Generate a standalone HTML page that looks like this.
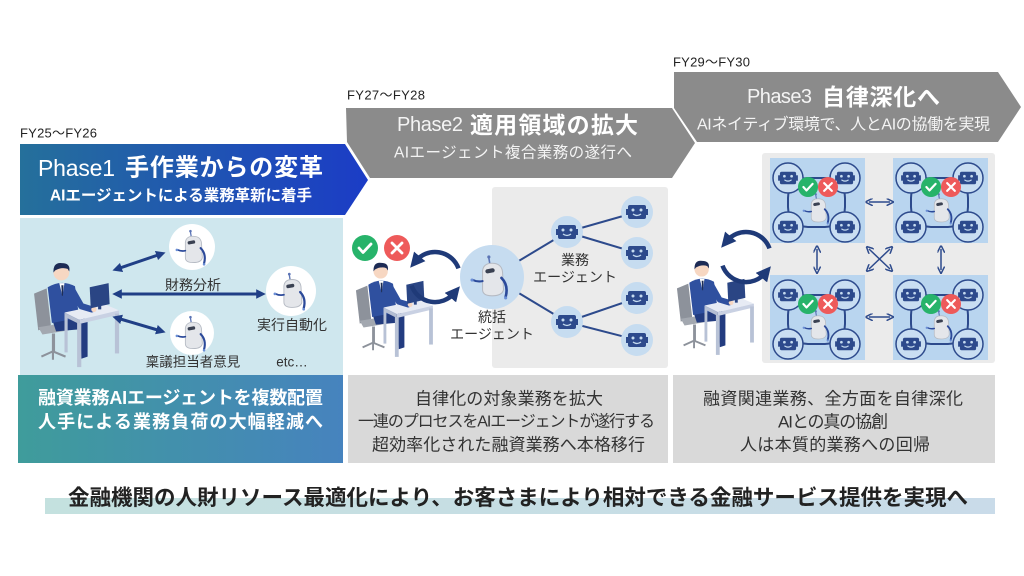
<!DOCTYPE html>
<html><head><meta charset="utf-8">
<style>
html,body{margin:0;padding:0;background:#fff;width:1024px;height:576px;overflow:hidden}
svg{display:block}
text{font-family:"Liberation Sans","Noto Sans CJK JP",sans-serif}
</style></head>
<body>
<svg width="1024" height="576" viewBox="0 0 1024 576" xmlns="http://www.w3.org/2000/svg">
<defs>
  <linearGradient id="g1" x1="0" y1="0" x2="1" y2="0">
    <stop offset="0" stop-color="#25709b"/><stop offset="1" stop-color="#1b3cc6"/>
  </linearGradient>
  <linearGradient id="g2" x1="0" y1="0" x2="1" y2="0">
    <stop offset="0" stop-color="#3f9c9b"/><stop offset="1" stop-color="#4683be"/>
  </linearGradient>
  <linearGradient id="g3" x1="0" y1="0" x2="1" y2="0">
    <stop offset="0" stop-color="#c4e1df"/><stop offset="1" stop-color="#c9dbe9"/>
  </linearGradient>
  <marker id="a" viewBox="0 0 10 10" refX="5" refY="5" markerWidth="3.2" markerHeight="3.2" orient="auto-start-reverse"><path d="M0,0 L10,5 L0,10 z" fill="#203f86"/></marker>
  <marker id="c" viewBox="0 0 10 10" refX="4" refY="5" markerWidth="3.3" markerHeight="3.3" orient="auto"><path d="M0,0 L10,5 L0,10 z" fill="#1f3a78"/></marker>
  <marker id="s" viewBox="0 0 10 10" refX="5" refY="5" markerWidth="5" markerHeight="5" orient="auto-start-reverse"><path d="M0,0 L10,5 L0,10" fill="none" stroke="#2d4a8c" stroke-width="2"/></marker>

  <g id="ps">
    <polygon points="1,32 13,27 17,62 5,67" fill="#8d929b"/>
    <polygon points="5,64 30,60 34,67 9,71" fill="#a3a8b0"/>
    <rect x="18" y="70" width="3" height="18" fill="#8d929b"/>
    <path d="M8,92 L19,87 L31,92 M19,87 L19,95" stroke="#8d929b" stroke-width="2" fill="none"/>
    <path d="M18,56 L44,52 L52,58 L52,92 L46,94 L45,66 L22,68 Z" fill="#233c80"/>
    <path d="M14,26 Q27,18 40,25 L44,55 L18,60 Z" fill="#2f509f"/>
    <polygon points="25,22 30,22 28,34" fill="#fff"/>
    <polygon points="27,24 29,24 28.5,34 27.5,34" fill="#1e2d55"/>
    <circle cx="27" cy="12" r="7.5" fill="#f7d7c2"/>
    <path d="M19.5,12 Q19,2 27.5,3 Q36,3 34.5,11 L33,8.5 Q27,6.5 21,10 Z" fill="#1d2b55"/>
    <polygon points="30,50 68,42 82,48 44,57" fill="#e7ebf4"/>
    <polygon points="44,57 82,48 82,52 44,61" fill="#c9d1e3"/>
    <polygon points="30,50 44,57 44,61 30,54" fill="#b4bed3"/>
    <rect x="42" y="60" width="4" height="42" fill="#b8c2d6"/>
    <rect x="78" y="51" width="4" height="38" fill="#b8c2d6"/>
    <rect x="30" y="53" width="3" height="35" fill="#b8c2d6"/>
    <path d="M37,28 L46,44 L56,47" stroke="#2f509f" stroke-width="6" fill="none" stroke-linecap="round" stroke-linejoin="round"/>
    <circle cx="58" cy="47" r="2.5" fill="#f7d7c2"/>
    <polygon points="54,26 72,22 73,42 55,46" fill="#2a4584"/>
    <rect x="62" y="42" width="3" height="5" fill="#2a4584"/>
  </g>

  <g id="rb">
    <path d="M-2,-14 L-3,-20" stroke="#5b74b5" stroke-width="1.5"/>
    <circle cx="-3" cy="-21" r="1.5" fill="#5b74b5"/>
    <path d="M-9,-8 Q-8,-15 0,-15 Q9,-15 10,-7 L11,10 Q10,16 0,16 Q-9,16 -9,10 Z" fill="#e4e6ea" stroke="#b5bac3" stroke-width="1"/>
    <rect x="-5" y="-10" width="9" height="4" rx="2" fill="#3a4152" transform="rotate(-10)"/>
    <path d="M-9,2 Q-14,3 -18,1" stroke="#2c4a9a" stroke-width="2" fill="none" stroke-linecap="round"/>
    <path d="M9,-1 Q16,6 13,17" stroke="#2c4a9a" stroke-width="2.5" fill="none" stroke-linecap="round"/>
    <circle cx="-19" cy="1" r="1.5" fill="#6b8fd6"/>
    <circle cx="13" cy="18" r="1.5" fill="#6b8fd6"/>
  </g>

  <g id="face">
    <rect x="-9" y="-7" width="18" height="14" rx="2" fill="#2d4a8c"/>
    <rect x="-11" y="-3" width="2.5" height="6" fill="#2d4a8c"/>
    <rect x="8.5" y="-3" width="2.5" height="6" fill="#2d4a8c"/>
    <circle cx="-4" cy="-2" r="1.5" fill="#c6dcf0"/>
    <circle cx="4" cy="-2" r="1.5" fill="#c6dcf0"/>
    <path d="M-4,2 Q0,5 4,2" stroke="#c6dcf0" stroke-width="1.3" fill="none"/>
  </g>

  <g id="ok"><circle r="13" fill="#27b36a"/><path d="M-6,0 L-2,4.5 L6,-4" stroke="#fff" stroke-width="2.8" fill="none" stroke-linecap="round" stroke-linejoin="round"/></g>
  <g id="ng"><circle r="13" fill="#ee5a5a"/><path d="M-5,-5 L5,5 M5,-5 L-5,5" stroke="#fff" stroke-width="2.8" stroke-linecap="round"/></g>

  <g id="node3">
    <circle r="15" fill="#c9def2" stroke="#2d4a8c" stroke-width="1.5"/>
    <use href="#face" transform="scale(0.9)"/>
  </g>

  <g id="cell">
    <rect width="95" height="85" fill="#b9d5ef"/>
    <rect x="18" y="20" width="57" height="49" rx="20" fill="none" stroke="#2d4a8c" stroke-width="2"/>
    <use href="#node3" x="18" y="20"/>
    <use href="#node3" x="75" y="20"/>
    <use href="#node3" x="18" y="69"/>
    <use href="#node3" x="75" y="69"/>
    <g transform="translate(48,52) scale(0.75)"><use href="#rb"/></g>
    <g transform="translate(38,29) scale(0.77)"><use href="#ok"/></g>
    <g transform="translate(58,29) scale(0.77)"><use href="#ng"/></g>
  </g>
</defs>

<!-- FY labels -->
<text x="20" y="133" font-size="13" fill="#222" dominant-baseline="central" textLength="77">FY25〜FY26</text>
<text x="347" y="95" font-size="13" fill="#222" dominant-baseline="central" textLength="78">FY27〜FY28</text>
<text x="673" y="62" font-size="13" fill="#222" dominant-baseline="central" textLength="77">FY29〜FY30</text>

<!-- Headers -->
<polygon points="20,144 345,144 368,180 345,215 20,215" fill="url(#g1)"/>
<polygon points="346,108 672,108 695,143 672,178 370,178 347,142" fill="#8b8b8b"/>
<polygon points="674,72 998,72 1021,107 998,142 697,142 674,108" fill="#8b8b8b"/>

<text x="38" y="168" font-size="23" fill="#fff" dominant-baseline="central" textLength="77">Phase1</text>
<text x="125" y="168" font-size="24" font-weight="bold" fill="#fff" dominant-baseline="central" textLength="198">手作業からの変革</text>
<text x="50" y="196" font-size="15.5" font-weight="bold" fill="#fff" dominant-baseline="central" textLength="262">AIエージェントによる業務革新に着手</text>

<text x="397" y="125" font-size="20" fill="#f4f4f4" dominant-baseline="central" textLength="66">Phase2</text>
<text x="470" y="125" font-size="23" font-weight="bold" fill="#fff" dominant-baseline="central" textLength="168">適用領域の拡大</text>
<text x="394" y="153" font-size="15.5" fill="#f4f4f4" dominant-baseline="central" textLength="238">AIエージェント複合業務の遂行へ</text>

<text x="747" y="97" font-size="20" fill="#f4f4f4" dominant-baseline="central" textLength="65">Phase3</text>
<text x="822" y="97" font-size="23" font-weight="bold" fill="#fff" dominant-baseline="central" textLength="118">自律深化へ</text>
<text x="697" y="125" font-size="16" fill="#f4f4f4" dominant-baseline="central" textLength="293">AIネイティブ環境で、人とAIの協働を実現</text>

<!-- Phase1 illustration -->
<rect x="20" y="218" width="323" height="157" fill="#cfe7ee"/>
<g transform="translate(33,260) scale(1.05)"><use href="#ps"/></g>
<line x1="117" y1="269" x2="161" y2="254" stroke="#203f86" stroke-width="3" marker-start="url(#a)" marker-end="url(#a)"/>
<line x1="117" y1="294" x2="261" y2="294" stroke="#203f86" stroke-width="3" marker-start="url(#a)" marker-end="url(#a)"/>
<line x1="117" y1="318" x2="161" y2="331" stroke="#203f86" stroke-width="3" marker-start="url(#a)" marker-end="url(#a)"/>
<circle cx="192" cy="247" r="23" fill="#fff"/>
<g transform="translate(193,249) scale(0.85)"><use href="#rb"/></g>
<circle cx="192" cy="333" r="22" fill="#fff"/>
<g transform="translate(193,335) scale(0.85)"><use href="#rb"/></g>
<circle cx="291" cy="291" r="25" fill="#fff"/>
<g transform="translate(292,293) scale(0.9)"><use href="#rb"/></g>
<text x="193" y="285" font-size="14" fill="#333" text-anchor="middle" dominant-baseline="central">財務分析</text>
<text x="292" y="325" font-size="14" fill="#333" text-anchor="middle" dominant-baseline="central">実行自動化</text>
<text x="193" y="362" font-size="13.5" fill="#333" text-anchor="middle" dominant-baseline="central">稟議担当者意見</text>
<text x="292" y="362" font-size="13.5" fill="#333" text-anchor="middle" dominant-baseline="central">etc…</text>

<!-- Phase2 illustration -->
<rect x="492" y="187" width="176" height="181" rx="3" fill="#ebebeb"/>
<g transform="translate(355,260) scale(0.95)"><use href="#ps"/></g>
<use href="#ok" x="365" y="248"/>
<use href="#ng" x="397" y="248"/>
<path d="M458.5,268.4 A25,25 0 0 0 415.9,260.9" stroke="#1f3a78" stroke-width="4.5" fill="none" marker-end="url(#c)"/>
<path d="M411.5,285.6 A25,25 0 0 0 454.2,293.1" stroke="#1f3a78" stroke-width="4.5" fill="none" marker-end="url(#c)"/>
<g stroke="#2d4a8c" stroke-width="2">
  <line x1="492" y1="277" x2="567" y2="232"/>
  <line x1="492" y1="277" x2="567" y2="322"/>
  <line x1="567" y1="232" x2="637" y2="212"/>
  <line x1="567" y1="232" x2="637" y2="253"/>
  <line x1="567" y1="322" x2="637" y2="298"/>
  <line x1="567" y1="322" x2="637" y2="340"/>
</g>
<circle cx="492" cy="277" r="32" fill="#c6dcf0"/>
<g transform="translate(492,279) scale(1.05)"><use href="#rb"/></g>
<circle cx="567" cy="232" r="16" fill="#c6dcf0"/><use href="#face" x="567" y="232"/>
<circle cx="567" cy="322" r="16" fill="#c6dcf0"/><use href="#face" x="567" y="322"/>
<circle cx="637" cy="212" r="16" fill="#c6dcf0"/><use href="#face" x="637" y="212"/>
<circle cx="637" cy="253" r="16" fill="#c6dcf0"/><use href="#face" x="637" y="253"/>
<circle cx="637" cy="298" r="16" fill="#c6dcf0"/><use href="#face" x="637" y="298"/>
<circle cx="637" cy="340" r="16" fill="#c6dcf0"/><use href="#face" x="637" y="340"/>
<text x="492" y="317" font-size="14" fill="#333" text-anchor="middle" dominant-baseline="central">統括</text>
<text x="492" y="334" font-size="14" fill="#333" text-anchor="middle" dominant-baseline="central">エージェント</text>
<text x="575" y="260" font-size="14" fill="#333" text-anchor="middle" dominant-baseline="central">業務</text>
<text x="575" y="277" font-size="14" fill="#333" text-anchor="middle" dominant-baseline="central">エージェント</text>

<!-- Phase3 illustration -->
<rect x="762" y="153" width="233" height="210" rx="3" fill="#ebebeb"/>
<use href="#cell" x="770" y="158"/>
<use href="#cell" x="893" y="158"/>
<use href="#cell" x="770" y="275"/>
<use href="#cell" x="893" y="275"/>
<g stroke="#2d4a8c" stroke-width="1.5" fill="none">
  <line x1="869" y1="202" x2="890" y2="202" marker-start="url(#s)" marker-end="url(#s)"/>
  <line x1="869" y1="317" x2="890" y2="317" marker-start="url(#s)" marker-end="url(#s)"/>
  <line x1="817" y1="249" x2="817" y2="270" marker-start="url(#s)" marker-end="url(#s)"/>
  <line x1="941" y1="249" x2="941" y2="270" marker-start="url(#s)" marker-end="url(#s)"/>
  <line x1="869" y1="249" x2="890" y2="269" marker-start="url(#s)" marker-end="url(#s)"/>
  <line x1="890" y1="249" x2="869" y2="269" marker-start="url(#s)" marker-end="url(#s)"/>
</g>
<g transform="translate(676,258) scale(0.95)"><use href="#ps"/></g>
<path d="M769.5,248.4 A25,25 0 0 0 726.9,240.9" stroke="#1f3a78" stroke-width="4.5" fill="none" marker-end="url(#c)"/>
<path d="M722.5,265.6 A25,25 0 0 0 765.2,273.1" stroke="#1f3a78" stroke-width="4.5" fill="none" marker-end="url(#c)"/>

<!-- Text boxes -->
<rect x="18" y="375" width="325" height="88" fill="url(#g2)"/>
<rect x="348" y="375" width="320" height="88" fill="#d9d9d9"/>
<rect x="673" y="375" width="322" height="88" fill="#d9d9d9"/>

<text x="38" y="398" font-size="18" font-weight="bold" fill="#fff" dominant-baseline="central" textLength="285">融資業務AIエージェントを複数配置</text>
<text x="38" y="422" font-size="18" font-weight="bold" fill="#fff" dominant-baseline="central" textLength="285">人手による業務負荷の大幅軽減へ</text>

<text x="415" y="399" font-size="17" fill="#333" dominant-baseline="central" textLength="188">自律化の対象業務を拡大</text>
<text x="358" y="422" font-size="16" fill="#333" dominant-baseline="central" textLength="297">一連のプロセスをAIエージェントが遂行する</text>
<text x="372" y="445" font-size="17" fill="#333" dominant-baseline="central" textLength="273">超効率化された融資業務へ本格移行</text>

<text x="703" y="399" font-size="17" fill="#333" dominant-baseline="central" textLength="260">融資関連業務、全方面を自律深化</text>
<text x="778" y="422" font-size="17" fill="#333" dominant-baseline="central" textLength="110">AIとの真の協創</text>
<text x="740" y="445" font-size="17" fill="#333" dominant-baseline="central" textLength="190">人は本質的業務への回帰</text>

<!-- Bottom banner -->
<rect x="45" y="498" width="950" height="16" fill="url(#g3)"/>
<text x="68" y="498" font-size="21.5" font-weight="bold" fill="#222" dominant-baseline="central" textLength="900">金融機関の人財リソース最適化により、お客さまにより相対できる金融サービス提供を実現へ</text>
</svg>
</body></html>
